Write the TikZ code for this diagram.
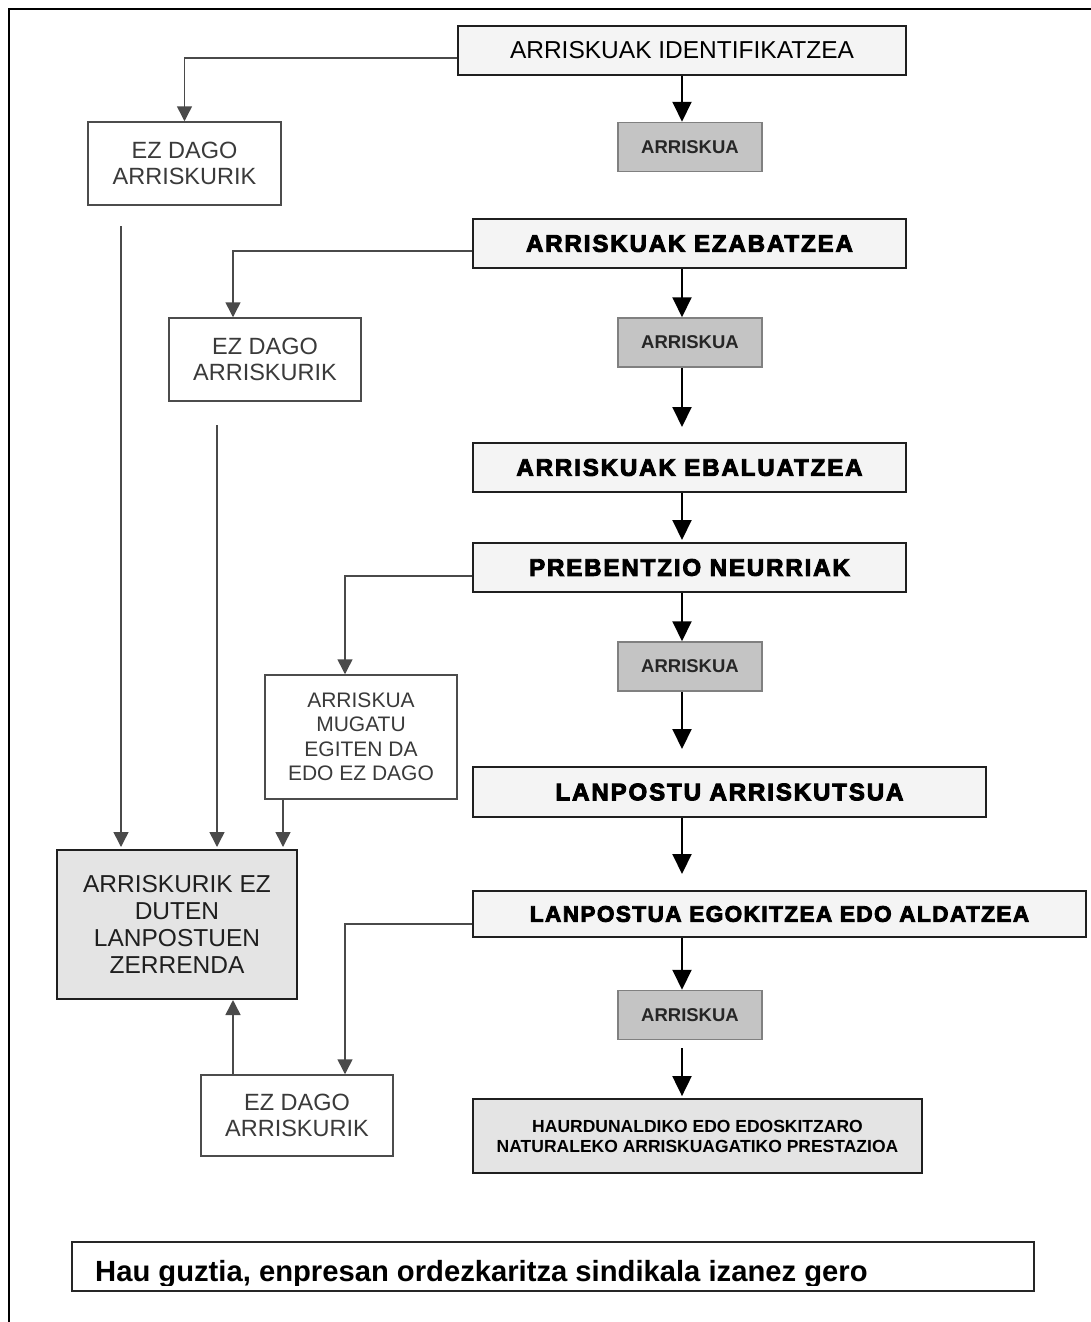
\documentclass[tikz,border=0pt]{standalone}
\usepackage{fontspec}
\setmainfont{Liberation Sans}
\newfontfamily\heavyfont[LetterSpace=8,FakeBold=4]{Liberation Sans Bold}
\newfontfamily\heavysmall[LetterSpace=6.5,FakeBold=4]{Liberation Sans Bold}
\usetikzlibrary{arrows.meta}
\definecolor{boxgray}{HTML}{C4C4C4}
\definecolor{lightfill}{HTML}{F4F4F4}
\definecolor{listfill}{HTML}{E4E4E4}
\definecolor{linegray}{HTML}{4A4A4A}
\definecolor{textgray}{HTML}{3A3A3A}
\tikzset{
  mainbox/.style={draw=black!88, line width=2pt, fill=lightfill, inner sep=0pt, align=center},
  riskbox/.style={draw=black!50, line width=1.5pt, fill=boxgray, inner sep=0pt, minimum width=144pt, minimum height=49pt,
     font=\bfseries\fontsize{18.5}{22}\selectfont, text=black!85},
  sidebox/.style={draw=black!70, line width=1.5pt, fill=white, inner sep=0pt, align=center, text=textgray,
     font=\fontsize{23.5}{25.5}\selectfont},
  marrow/.style={draw=black, line width=2pt, -{Triangle[length=20pt,width=19pt]}},
  garrow/.style={draw=linegray, line width=1.5pt, -{Triangle[length=15pt,width=15pt]}},
  heavytxt/.style={font=\heavyfont\fontsize{24}{27}\selectfont}
}
\begin{document}
\begin{tikzpicture}[x=1pt,y=-1pt]
\useasboundingbox (0,0) rectangle (1091,1322);
\draw[line width=2pt] (9,1322) -- (9,9) -- (1091,9);
\coordinate (spine) at (682,0);

% main column
\node[mainbox, minimum width=448pt, minimum height=49pt, font=\fontsize{24.5}{27}\selectfont] (ident) at (682,50.5) {ARRISKUAK IDENTIFIKATZEA};
\node[riskbox] (arr1) at (690,147) {ARRISKUA};
\node[mainbox, heavytxt, minimum width=433pt, minimum height=49pt] (ezab) at (689.5,243.5) {ARRISKUAK EZABATZEA};
\node[riskbox] (arr2) at (690,342.5) {ARRISKUA};
\node[mainbox, heavytxt, minimum width=433pt, minimum height=49pt] (ebal) at (689.5,467.5) {ARRISKUAK EBALUATZEA};
\node[mainbox, heavytxt, minimum width=433pt, minimum height=49pt] (prev) at (689.5,567.5) {PREBENTZIO NEURRIAK};
\node[riskbox] (arr3) at (690,666.5) {ARRISKUA};
\node[mainbox, heavytxt, minimum width=513pt, minimum height=50pt] (lanp) at (729.5,792) {LANPOSTU ARRISKUTSUA};
\node[mainbox, minimum width=613pt, minimum height=46pt, font=\heavysmall\fontsize{22.5}{25}\selectfont] (egok) at (779.5,914) {LANPOSTUA EGOKITZEA EDO ALDATZEA};
\node[riskbox] (arr4) at (690,1015) {ARRISKUA};
\node[mainbox, fill=listfill, line width=1.8pt, minimum width=449pt, minimum height=74pt, font=\bfseries\fontsize{17.5}{20}\selectfont] (haur) at (697.5,1136)
  {HAURDUNALDIKO EDO EDOSKITZARO\\NATURALEKO ARRISKUAGATIKO PRESTAZIOA};

% side column
\node[sidebox, minimum width=193pt, minimum height=83pt] (ez1) at (184.5,163.5) {EZ DAGO\\ARRISKURIK};
\node[sidebox, minimum width=192pt, minimum height=83pt] (ez2) at (265,359.5) {EZ DAGO\\ARRISKURIK};
\node[sidebox, minimum width=192pt, minimum height=124pt, font=\fontsize{21}{24.5}\selectfont] (mug) at (361,737) {ARRISKUA\\MUGATU\\EGITEN DA\\EDO EZ DAGO};
\node[sidebox, minimum width=192pt, minimum height=81pt] (ez3) at (297,1115.5) {EZ DAGO\\ARRISKURIK};
\node[mainbox, fill=listfill, line width=2pt, minimum width=240pt, minimum height=149pt, text=black!88, font=\fontsize{24.5}{27}\selectfont] (list) at (177,924.5)
  {ARRISKURIK EZ\\DUTEN\\LANPOSTUEN\\ZERRENDA};

% footer
\node[draw=black!85, line width=2pt, fill=white, minimum width=962pt, minimum height=49pt, inner sep=0pt] (foot) at (553,1266.5) {};
\begin{scope}
\clip (72,1242) rectangle (1034,1285.5);
\node[anchor=base west, inner sep=0pt, font=\bfseries\fontsize{29.2}{32}\selectfont] (foottext) at (95,1281) {Hau guztia, enpresan ordezkaritza sindikala izanez gero};
\end{scope}

% main arrows
\draw[marrow] (ident.south -| spine) -- (arr1.north -| spine);
\draw[marrow] (ezab.south -| spine) -- (arr2.north -| spine);
\draw[marrow] (arr2.south -| spine) -- ([yshift=15pt]ebal.north -| spine);
\draw[marrow] (ebal.south -| spine) -- ([yshift=2pt]prev.north -| spine);
\draw[marrow] (prev.south -| spine) -- (arr3.north -| spine);
\draw[marrow] (arr3.south -| spine) -- ([yshift=17pt]lanp.north -| spine);
\draw[marrow] (lanp.south -| spine) -- ([yshift=16pt]egok.north -| spine);
\draw[marrow] (egok.south -| spine) -- (arr4.north -| spine);
\draw[marrow] ([yshift=-8pt]arr4.south -| spine) -- ([yshift=2pt]haur.north -| spine);

% side arrows
\draw[garrow] ([yshift=-7.5pt]ident.west) -| (ez1.north);
\draw[garrow] ([yshift=-7.5pt]ezab.west) -| ([xshift=-32pt]ez2.north);
\draw[garrow] ([yshift=-8.5pt]prev.west) -| ([xshift=-16pt]mug.north);
\draw[garrow] ([yshift=-10pt]egok.west) -| ([xshift=48pt]ez3.north);
\draw[garrow] ([xshift=-64pt]ez3.north) -- ([xshift=-64pt]ez3.north |- list.south);
\coordinate (s1) at (121,226);
\coordinate (s2) at (217,425);
\coordinate (s3) at ([xshift=-78pt]mug.south);
\draw[garrow] (s1) -- ([yshift=2pt]s1 |- list.north);
\draw[garrow] (s2) -- ([yshift=2pt]s2 |- list.north);
\draw[garrow] (s3) -- ([yshift=2pt]s3 |- list.north);
\end{tikzpicture}
\end{document}
